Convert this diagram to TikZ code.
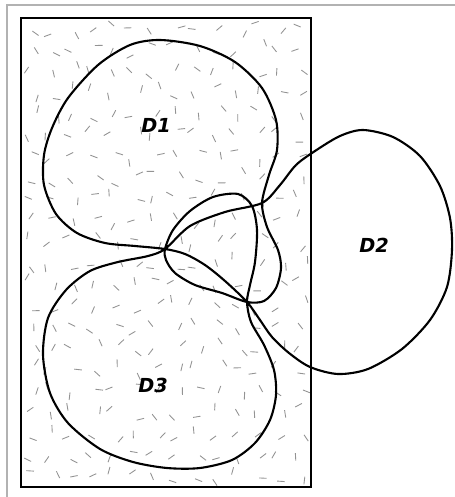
\documentclass[tikz,border=0pt]{standalone}
\usepackage{fontspec}
\setsansfont{DejaVu Sans}
\tikzset{
  speck/.style={gray!85, line width=0.5pt},
  region/.style={black, line width=1.2pt, line join=round},
  setlabel/.style={font=\sffamily\bfseries\itshape\fontsize{11}{13}\selectfont},
}

\begin{document}
\begin{tikzpicture}[x=0.02cm, y=-0.02cm]
    \useasboundingbox (0,0) rectangle (455,497);
    % page frame
    \draw[gray!60, line width=0.6pt] (7,497) -- (7,5) -- (455,5);

    % speckled universe
    \pgfmathsetseed{4}
    \foreach \i in {0,...,13}{
      \foreach \j in {0,...,21}{
        \pgfmathsetmacro{\px}{21+(\i+0.15+0.7*rnd)*20.7}
        \pgfmathsetmacro{\py}{18+(\j+0.15+0.7*rnd)*21.3}
        \pgfmathsetmacro{\ang}{180*rnd}
        \draw[speck] (\px,\py) ++(\ang:3.8) -- ++(\ang+180:7.6);
      }
    }
    \draw[line width=1.4pt] (21,18) rectangle (311,487);

    % crossing points
    \coordinate (meetW) at (165,249);
    \coordinate (meetN) at (262,203);
    \coordinate (meetS) at (247,302);

    % one closed curve, three lobes
    \draw[region] plot[smooth cycle] coordinates {
      (160,40) (200,46) (235,62) (262,88) (276,120) (277,150) (269,175)
      (meetN) (267,227) (278,250) (281,268) (276,288) (264,301)
      (meetS) (222,293) (195,285) (175,273) (166,260)
      (meetW) (173,230) (190,211) (213,197) (238,194) (252,206) (257,230) (255,262) (250,285)
      (meetS) (251,322) (264,345) (274,370) (276,395) (270,420) (255,443) (232,460) (200,468)
      (167,468) (133,462) (100,449) (68,423) (50,393) (43,355) (48,318) (66,290) (90,271) (118,262) (148,256)
      (meetW) (190,226) (225,212)
      (meetN) (280,185) (296,165) (315,151) (340,136) (363,130) (393,137) (420,156) (440,186)
      (450,218) (452,250) (447,287) (430,320) (402,349) (368,369) (338,374) (310,367) (289,353) (272,337) (260,320)
      (meetS) (225,281) (205,265) (185,254)
      (meetW) (135,246) (105,243) (77,233) (56,214) (44,185) (44,155) (52,128) (68,98) (98,65) (130,45)
    };

    % labels
    \node[setlabel] (d1) at (156,125) {D1};
    \node[setlabel] (d2) at (374,245) {D2};
    \node[setlabel] (d3) at (153,385) {D3};
\end{tikzpicture}
\end{document}
